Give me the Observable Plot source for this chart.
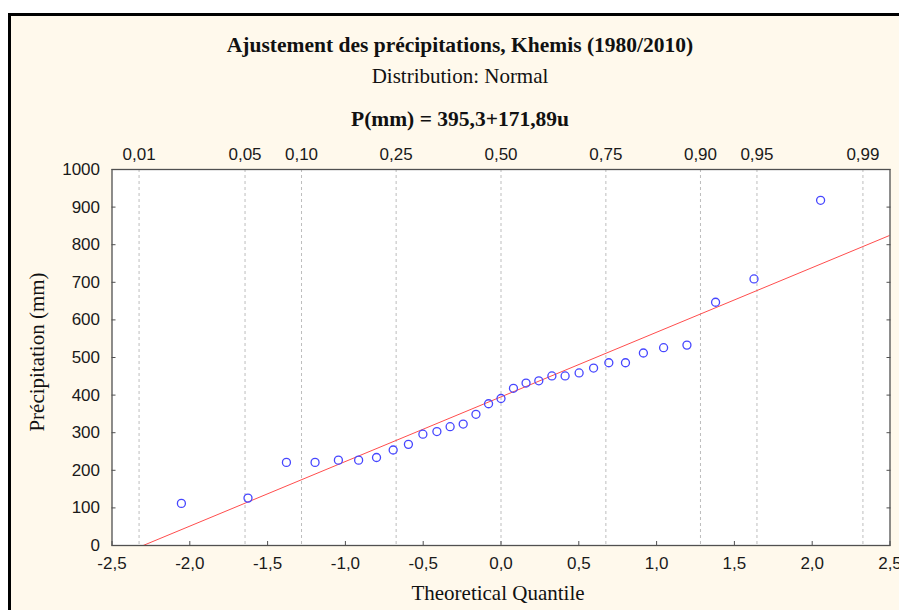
<!DOCTYPE html>
<html><head><meta charset="utf-8">
<script src="https://cdn.jsdelivr.net/npm/d3@7"></script>
<script src="https://cdn.jsdelivr.net/npm/@observablehq/plot@0.6"></script>
<style>
html,body{margin:0;padding:0;background:#fff}
body{width:899px;height:610px;overflow:hidden;position:relative;font-family:"Liberation Serif","Times New Roman",serif}
#box{position:absolute;left:8px;top:13px;width:1000px;height:700px;border:3px solid #000;background:#fff9ec;box-sizing:border-box}
.t{position:absolute;left:0;width:920px;text-align:center;color:#111;line-height:24px;white-space:nowrap}
#chart{position:absolute;left:0;top:0}
#ylab{position:absolute;left:37px;top:352px;transform:translate(-50%,-50%) rotate(-90deg);font-size:21px;color:#111;white-space:nowrap;line-height:24px}
#xlab{position:absolute;left:498px;top:593px;transform:translate(-50%,-50%);font-size:21px;color:#111;white-space:nowrap;line-height:24px}
</style></head><body>
<div id="box"></div>
<div class="t" style="top:33px;font-weight:bold;font-size:21.5px">Ajustement des précipitations, Khemis (1980/2010)</div>
<div class="t" style="top:64px;font-size:21px">Distribution: Normal</div>
<div class="t" style="top:107px;font-weight:bold;font-size:21.5px">P(mm) = 395,3+171,89u</div>
<div id="chart"></div>
<div id="ylab">Précipitation (mm)</div>
<div id="xlab">Theoretical Quantile</div>
<script>
// Theoretical quantiles (u) and observed annual precipitation (mm), sorted
const quantiles = [-2.054,-1.626,-1.379,-1.195,-1.045,-0.915,-0.800,-0.693,-0.595,-0.502,-0.412,-0.327,-0.243,-0.161,-0.080,0,0.080,0.161,0.243,0.327,0.412,0.502,0.595,0.693,0.800,0.915,1.045,1.195,1.379,1.626,2.054];
const precipitation = [112,126,221,221,227,227,234,254,269,296,303,316,323,349,377,391,418,432,438,451,451,459,472,486,486,512,526,533,647,709,918];

// Fitted normal law P = a + b*u
const intercept = 395.3;
const slope = 171.89;

// Axis ticks
const xTicks = [-2.5,-2,-1.5,-1,-0.5,0,0.5,1,1.5,2,2.5];
const yTicks = [0,100,200,300,400,500,600,700,800,900,1000];
const probLabels = ["0,01","0,05","0,10","0,25","0,50","0,75","0,90","0,95","0,99"];
const probQuantiles = [-2.326,-1.645,-1.282,-0.674,0,0.674,1.282,1.645,2.326];

const points = quantiles.map((u, i) => ({u, p: precipitation[i]}));
const xDomain = [-2.5, 2.5];
const fit = xDomain.map(u => ({u, p: intercept + slope * u}));
const comma = d => d.toFixed(1).replace(".", ",");

const chart = Plot.plot({
  width: 899, height: 610,
  marginLeft: 111.5, marginRight: 9.5, marginTop: 169, marginBottom: 65,
  style: {background: "transparent", fontFamily: "'Liberation Sans', Arial, sans-serif", fontSize: "17px", color: "#1a1a1a"},
  x: {domain: xDomain},
  y: {domain: [0, 1000]},
  marks: [
    Plot.frame({fill: "white", stroke: null}),
    Plot.ruleX(probQuantiles, {stroke: "#bdbdbd", strokeDasharray: "3,3"}),
    Plot.line(fit, {x: "u", y: "p", stroke: "#ff4d4d", strokeWidth: 1, clip: true}),
    Plot.dot(points, {x: "u", y: "p", r: 4, stroke: "#4646ff", strokeWidth: 1.3, fill: "none"}),
    Plot.frame({stroke: "#505050", strokeWidth: 1.3}),
    Plot.axisX(xTicks, {anchor: "bottom", tickSize: 0, tickPadding: 11, tickFormat: comma, label: null}),
    Plot.axisX(xTicks, {anchor: "bottom", tickSize: 4, dy: -4, fill: "none", stroke: "#505050", label: null}),
    Plot.axisY(yTicks, {anchor: "left", tickSize: 0, tickPadding: 12, tickFormat: d => String(d), label: null}),
    Plot.axisY(yTicks, {anchor: "left", tickSize: 4, dx: 4, fill: "none", stroke: "#505050", label: null}),
    Plot.axisY(yTicks, {anchor: "right", tickSize: 4, dx: -4, fill: "none", stroke: "#505050", label: null}),
    Plot.axisX(probQuantiles, {anchor: "top", tickSize: 0, tickPadding: 10, tickFormat: d => probLabels[probQuantiles.indexOf(d)], label: null})
  ]
});
document.getElementById("chart").appendChild(chart);
</script>
</body></html>
